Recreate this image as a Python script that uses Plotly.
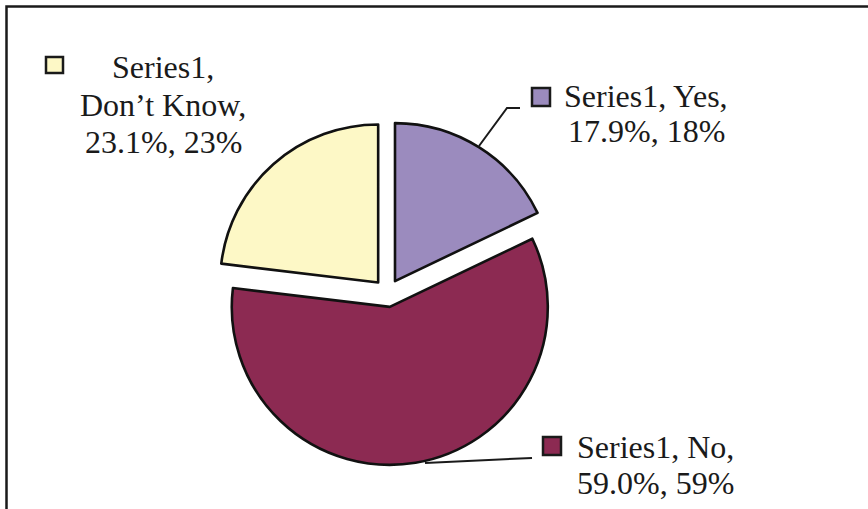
import plotly.graph_objects as go

# ---- data ----
series_name = "Series1"
categories = ["Yes", "No", "Don’t Know"]
values = [17.9, 59.0, 23.1]
rounded_labels = ["18%", "59%", "23%"]
colors = ["#9b8bbe", "#8c2a52", "#fdf8c6"]

W, H = 868, 509


def px(x):
    return x / W


def py(y):
    return 1 - y / H


fig = go.Figure()

# pie geometry (pixels)
cx, cy = 387.5, 293.0
r = 158.0
pull = 0.089
half = r * (1 + pull)

fig.add_trace(go.Pie(
    labels=categories,
    values=values,
    sort=False,
    direction="clockwise",
    rotation=0,
    pull=[pull] * len(values),
    marker=dict(colors=colors, line=dict(color="#111111", width=2.6)),
    textinfo="none",
    hoverinfo="label+percent",
    showlegend=False,
    domain=dict(x=[px(cx - half), px(cx + half)], y=[py(cy + half), py(cy - half)]),
))

shapes = []
annotations = []

# outer frame (right and bottom edges lie outside the image)
shapes.append(dict(type="rect", xref="paper", yref="paper",
                   x0=px(6.5), x1=px(920), y0=py(560), y1=py(6.5),
                   line=dict(color="#1a1a1a", width=2.5), fillcolor="rgba(0,0,0,0)"))

font = dict(family="Liberation Serif, Times New Roman, serif", size=32, color="#1a1a1a")

# label blocks: (key square, text center x, baselines)
label_specs = [
    # Yes
    dict(idx=0, key=(532, 88, 550, 106), cx=646,
         lines=[f"{series_name}, {categories[0]},", f"{values[0]:.1f}%, {rounded_labels[0]}"],
         baselines=[106, 141]),
    # No
    dict(idx=1, key=(543, 437, 561, 455), cx=655,
         lines=[f"{series_name}, {categories[1]},", f"{values[1]:.1f}%, {rounded_labels[1]}"],
         baselines=[457, 493]),
    # Don't Know
    dict(idx=2, key=(46, 57, 63, 73), cx=163,
         lines=[f"{series_name},", f"{categories[2]},", f"{values[2]:.1f}%, {rounded_labels[2]}"],
         baselines=[77, 115, 152]),
]

for spec in label_specs:
    x0, y0, x1, y1 = spec["key"]
    shapes.append(dict(type="rect", xref="paper", yref="paper",
                       x0=px(x0), x1=px(x1), y0=py(y1), y1=py(y0),
                       fillcolor=colors[spec["idx"]],
                       line=dict(color="#1a1a1a", width=2.5)))
    for text, b in zip(spec["lines"], spec["baselines"]):
        annotations.append(dict(xref="paper", yref="paper", x=px(spec["cx"]), y=py(b - 10),
                                text=text, showarrow=False, xanchor="center", yanchor="middle",
                                font=font))

# leader lines
leader_yes = [(479, 146), (507, 108), (520, 108)]
leader_no = [(425, 463), (532, 458)]
for pts in (leader_yes, leader_no):
    path = "M " + " L ".join(f"{px(x)},{py(y)}" for x, y in pts)
    shapes.append(dict(type="path", xref="paper", yref="paper", path=path,
                       line=dict(color="#1a1a1a", width=2)))

fig.update_layout(
    width=W, height=H,
    margin=dict(l=0, r=0, t=0, b=0),
    paper_bgcolor="white",
    plot_bgcolor="white",
    shapes=shapes,
    annotations=annotations,
)

fig.write_html(
    "out.html",
    config={"displayModeBar": False},
    post_script="document.body.style.margin='0';document.body.style.overflow='hidden';",
)
